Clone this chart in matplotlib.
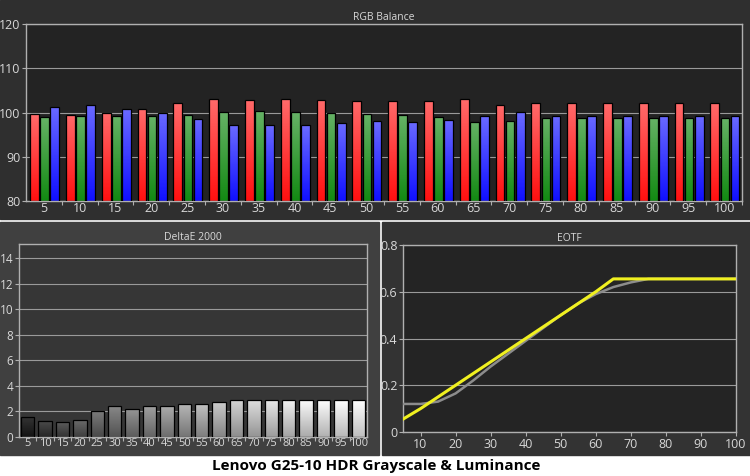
import numpy as np
import matplotlib
matplotlib.use("Agg")
import matplotlib.pyplot as plt
from matplotlib.patches import Rectangle
from matplotlib.colors import LinearSegmentedColormap

plt.rcParams["font.family"] = ["Open Sans", "DejaVu Sans"]

steps = [5, 10, 15, 20, 25, 30, 35, 40, 45, 50, 55, 60, 65, 70, 75, 80, 85, 90, 95, 100]
red = [99.6, 99.5, 99.9, 100.8, 102.1, 103.0, 102.9, 103.0, 102.9, 102.6,
       102.6, 102.6, 103.0, 101.7, 102.1, 102.1, 102.1, 102.1, 102.1, 102.1]
green = [99.0, 99.3, 99.3, 99.3, 99.5, 100.1, 100.4, 100.1, 99.9, 99.7,
         99.5, 99.0, 97.9, 98.1, 98.8, 98.8, 98.8, 98.8, 98.8, 98.8]
blue = [101.3, 101.6, 100.9, 99.9, 98.6, 97.1, 97.1, 97.1, 97.6, 98.0,
        97.9, 98.4, 99.1, 100.1, 99.3, 99.3, 99.3, 99.3, 99.3, 99.3]
delta_e = [1.56, 1.26, 1.18, 1.34, 2.0, 2.41, 2.16, 2.41, 2.41, 2.58,
           2.58, 2.74, 2.9, 2.9, 2.9, 2.9, 2.9, 2.9, 2.9, 2.9]
eotf_x = [5, 10, 15, 20, 25, 30, 35, 40, 45, 50, 55, 60, 65, 70, 75, 80, 85, 90, 95, 100]
eotf_target = [0.12, 0.12, 0.13, 0.165, 0.22, 0.28, 0.335, 0.39, 0.445, 0.5,
               0.55, 0.59, 0.62, 0.64, 0.655, 0.655, 0.655, 0.655, 0.655, 0.655]
eotf_meas = [0.055, 0.1, 0.15, 0.2, 0.25, 0.3, 0.35, 0.4, 0.45, 0.5,
             0.55, 0.6, 0.655, 0.655, 0.655, 0.655, 0.655, 0.655, 0.655, 0.655]

TXT = "#d8d8d8"
GRID = "#9a9a9a"
SPINE = "#b0b0b0"

fig = plt.figure(figsize=(7.5, 4.76), dpi=100)
fig.patch.set_facecolor("white")
H = 476.0
def fy(y):
    return 1 - y / H
# panel backgrounds (behind the axes)
for rect, col in [((0, fy(219), 1, 219 / H), "#2f2f2f"),
                  ((0, fy(455), 379 / 750, (455 - 222) / H), "#404040"),
                  ((382 / 750, fy(455), 368 / 750, (455 - 222) / H), "#333333")]:
    fig.add_artist(Rectangle(rect[:2], rect[2], rect[3], transform=fig.transFigure, color=col, zorder=-5))

def style(ax, bg, fs):
    ax.set_facecolor(bg)
    for s in ax.spines.values():
        s.set_color(SPINE)
        s.set_linewidth(1.0)
    ax.tick_params(colors=SPINE, labelcolor=TXT, labelsize=fs, length=3, width=0.8, pad=1)

def grad_bar(ax, x0, w, top, c_top, c_bot, bottom):
    cmap = LinearSegmentedColormap.from_list("g", [c_bot, c_top])
    im = ax.imshow(np.linspace(0, 1, 64).reshape(-1, 1), cmap=cmap, aspect="auto",
                   extent=(x0, x0 + w, bottom, top), origin="lower", zorder=2)
    r = Rectangle((x0, bottom), w, top - bottom, facecolor="none", edgecolor="black", lw=0.9, zorder=3)
    ax.add_patch(r)
    im.set_clip_path(r)

# --- RGB Balance ---
ax1 = fig.add_axes([26 / 750, fy(201), 716 / 750, 177 / H])
style(ax1, "#232323", 9)
n = len(steps)
bw = 0.245
for i in range(n):
    grad_bar(ax1, i + 0.12, bw, red[i], "#ff6a6a", "#ff1010", 80)
    grad_bar(ax1, i + 0.12 + 0.28, bw, green[i], "#66b266", "#138a13", 80)
    grad_bar(ax1, i + 0.12 + 0.56, bw, blue[i], "#6a6aff", "#1010ff", 80)
ax1.set_xlim(0, n)
ax1.set_ylim(80, 120)
ax1.set_yticks([80, 90, 100, 110, 120])
ax1.set_xticks(np.arange(1, n + 1))
ax1.set_xticklabels([])
ax1.set_xticks(np.arange(n) + 0.5, minor=True)
ax1.set_xticklabels([str(s) for s in steps], minor=True)
ax1.tick_params(axis="x", which="minor", length=0, labelcolor=TXT, labelsize=9, pad=1)
ax1.grid(axis="y", color=GRID, lw=0.8, zorder=1)
ax1.set_axisbelow(True)
ax1.set_title("RGB Balance", color=TXT, fontsize=7.5, pad=3)

# --- DeltaE 2000 ---
ax2 = fig.add_axes([19 / 750, fy(437), 348 / 750, 193 / H])
style(ax2, "#363636", 8.5)
for i in range(n):
    g = 0.1 + 0.9 * (i / (n - 1)) ** 0.75
    top_c = (min(1, g + 0.1),) * 3
    bot_c = (g * 0.75,) * 3
    grad_bar(ax2, i + 0.12, 0.76, delta_e[i], top_c, bot_c, 0)
ax2.set_xlim(0, n)
ax2.set_ylim(0, 15.1)
ax2.set_yticks([0, 2, 4, 6, 8, 10, 12, 14])
ax2.set_xticks(np.arange(1, n))
ax2.set_xticklabels([])
ax2.set_xticks(np.arange(n) + 0.5, minor=True)
ax2.set_xticklabels([str(s) for s in steps], minor=True)
ax2.tick_params(axis="x", which="minor", length=0, labelcolor=TXT, labelsize=8, pad=1)
ax2.grid(axis="y", color=GRID, lw=0.8, zorder=1)
ax2.set_axisbelow(True)
ax2.set_title("DeltaE 2000", color=TXT, fontsize=7.5, pad=3)

# --- EOTF ---
ax3 = fig.add_axes([403 / 750, fy(432), 333 / 750, 187 / H])
style(ax3, "#242424", 9)
ax3.plot(eotf_x, eotf_target, color="#8c8c8c", lw=1.8, zorder=3)
ax3.plot(eotf_x, eotf_meas, color="#f0f020", lw=2.2, zorder=4)
ax3.set_xlim(5, 100)
ax3.set_ylim(0, 0.8)
ax3.set_xticks(range(10, 101, 10))
ax3.set_yticks([0, 0.2, 0.4, 0.6, 0.8])
ax3.set_yticklabels(["0", "0.2", "0.4", "0.6", "0.8"])
ax3.grid(axis="y", color=GRID, lw=0.8, zorder=1)
ax3.set_axisbelow(True)
ax3.set_title("EOTF", color=TXT, fontsize=7.5, pad=3)

fig.text(376 / 750, fy(466), "Lenovo G25-10 HDR Grayscale & Luminance", ha="center", va="center",
         fontsize=11, fontweight="bold", color="black")

fig.savefig("out.png", dpi=100)
